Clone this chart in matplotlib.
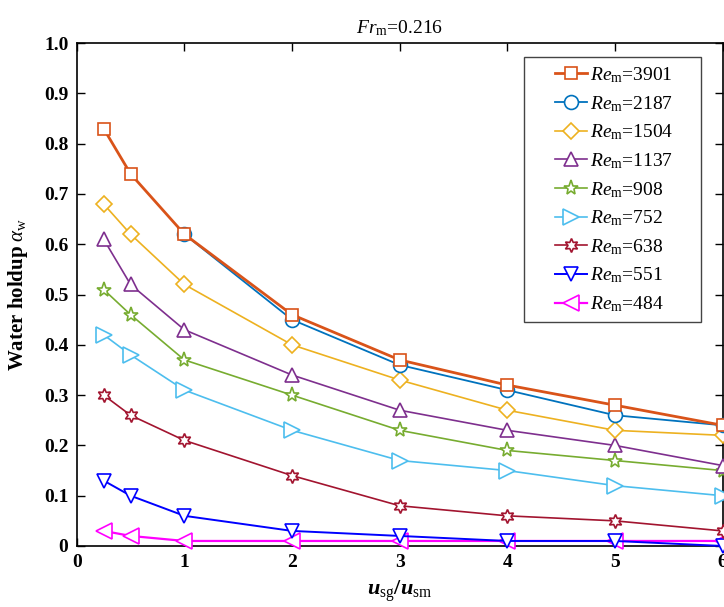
import matplotlib
matplotlib.use('Agg')
import matplotlib.pyplot as plt
from matplotlib.patches import Rectangle

plt.rcParams['font.family'] = 'Liberation Serif'
plt.rcParams['mathtext.fontset'] = 'custom'
plt.rcParams['mathtext.rm'] = 'Liberation Serif'
plt.rcParams['mathtext.it'] = 'Liberation Serif:italic'
plt.rcParams['mathtext.bf'] = 'Liberation Serif:bold'
plt.rcParams['mathtext.bfit'] = 'Liberation Serif:italic:bold'

# velocity ratio u_sg/u_sm
x_full = [0.25, 0.5, 1, 2, 3, 4, 5, 6]
x_from1 = [1, 2, 3, 4, 5, 6]

re_labels = ['3901', '2187', '1504', '1137', '908', '752', '638', '551', '484']
holdup = [
    [0.83, 0.74, 0.62, 0.46, 0.37, 0.32, 0.28, 0.24],
    [0.62, 0.45, 0.36, 0.31, 0.26, 0.24],
    [0.68, 0.62, 0.52, 0.40, 0.33, 0.27, 0.23, 0.22],
    [0.61, 0.52, 0.43, 0.34, 0.27, 0.23, 0.20, 0.16],
    [0.51, 0.46, 0.37, 0.30, 0.23, 0.19, 0.17, 0.15],
    [0.42, 0.38, 0.31, 0.23, 0.17, 0.15, 0.12, 0.10],
    [0.30, 0.26, 0.21, 0.14, 0.08, 0.06, 0.05, 0.03],
    [0.13, 0.10, 0.06, 0.03, 0.02, 0.01, 0.01, 0.00],
    [0.03, 0.02, 0.01, 0.01, 0.01, 0.01, 0.01, 0.01],
]

colors = ['#D95319', '#0072BD', '#EDB120', '#7E2F8E', '#77AC30',
          '#4DBEEE', '#A2142F', '#0000FF', '#FF00FF']
markers = ['s', 'o', 'D', '^', '*', '>', (6, 1, 0), 'v', '<']
msizes = [8, 10, 8, 10, 11, 11, 10, 10, 11]
lwidths = [2.0, 1.3, 1.2, 1.2, 1.2, 1.2, 1.2, 1.4, 1.6]

fig = plt.figure(figsize=(7.24, 6.07), dpi=100)
ax = fig.add_axes([0.106, 0.1005, 0.892, 0.8285])

for i, lab in enumerate(re_labels):
    xs = x_from1 if len(holdup[i]) == 6 else x_full
    ax.plot(xs, holdup[i], color=colors[i], marker=markers[i], ms=msizes[i],
            mfc='white', mec=colors[i], mew=1.2, lw=lwidths[i],
            label=r'$Re_\mathrm{m}$=' + lab, clip_on=False, zorder=3 + (8 - i) * 0.01)

ax.set_xlim(0, 6)
ax.set_ylim(0, 1.0)
ax.set_xticks(range(7))
ax.set_yticks([i / 10 for i in range(11)])
ax.set_yticklabels(['0', '0.1', '0.2', '0.3', '0.4', '0.5', '0.6', '0.7', '0.8', '0.9', '1.0'])
ax.tick_params(direction='in', top=True, right=True, length=6, width=1,
               labelsize=14, pad=6)
for t in ax.get_xticklabels() + ax.get_yticklabels():
    t.set_fontweight('bold')
for s in ax.spines.values():
    s.set_linewidth(1.2)

ax.text(0.5, 1.01, r'$Fr_\mathrm{m}$=0.216', fontsize=14,
        transform=ax.transAxes, ha='center', va='bottom')
ax.set_ylabel(r'Water holdup $\alpha_\mathrm{w}$', fontsize=15, fontweight='bold')
ax.yaxis.set_label_coords(-0.072, 0.5)
ax.set_xlabel(r'$\mathbfit{u}_\mathrm{sg}\mathbf{/}\mathbfit{u}_\mathrm{sm}$', fontsize=16)
ax.xaxis.set_label_coords(0.5, -0.065)

# legend box drawn by hand, entries placed inside
ax.add_patch(Rectangle((0.693, 0.445), 0.273, 0.527, transform=ax.transAxes,
                       facecolor='white', edgecolor='#444444', lw=1.0, zorder=5))
leg = ax.legend(loc='upper left', bbox_to_anchor=(0.741, 0.956), fontsize=14,
                frameon=False, handlelength=1.65, borderaxespad=0, borderpad=0,
                labelspacing=0.46, handletextpad=0.15)
leg.set_zorder(6)

fig.savefig('out.png', dpi=100)
